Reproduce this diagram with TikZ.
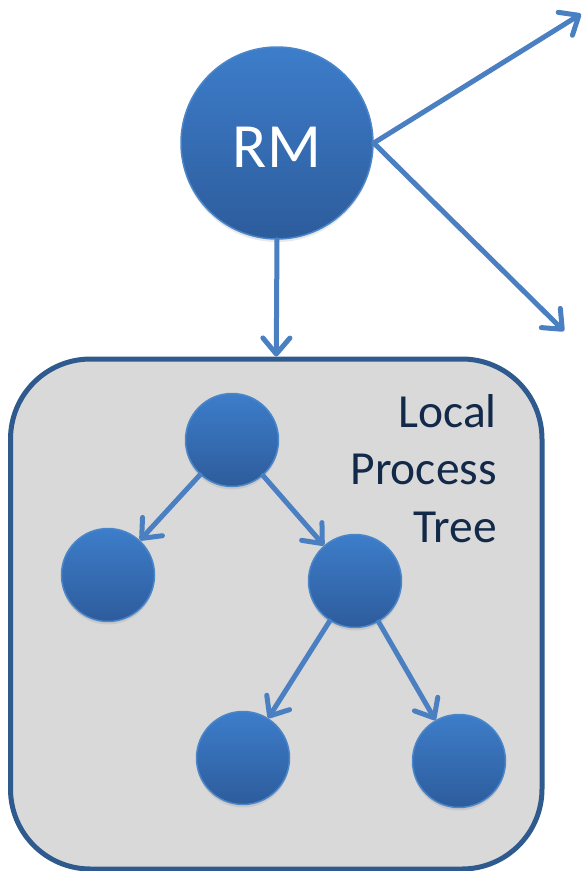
\documentclass[tikz,border=0pt]{standalone}
\usepackage{fontspec}
\setmainfont{Carlito}
\usetikzlibrary{arrows.meta,shadows}
\definecolor{arrowblue}{HTML}{4A7FC1}
\definecolor{topblue}{HTML}{3D7DCA}
\definecolor{botblue}{HTML}{2D5C9C}
\definecolor{rimblue}{HTML}{4B86C9}
\definecolor{boxedge}{HTML}{2F5A8E}
\definecolor{boxfill}{HTML}{D9D9D9}
\definecolor{textnavy}{HTML}{12294A}
\tikzset{
  ball/.style={circle, draw=rimblue, line width=1.5pt, top color=topblue, bottom color=botblue,
    inner sep=0pt, drop shadow={opacity=0.18, shadow xshift=0pt, shadow yshift=-3pt}},
  conn/.style={draw=arrowblue, line width=5pt, line cap=round,
    -{Straight Barb[length=16pt, width=27pt, line cap=round, line join=round]}},
}
\begin{document}
\begin{tikzpicture}[x=1pt, y=-1pt]
\useasboundingbox (0,0) rectangle (587,871);
% local box
\node[draw=boxedge, fill=boxfill, line width=5pt, rounded corners=80pt,
      minimum width=531.5pt, minimum height=510pt, inner sep=0pt] (box) at (276.25,614) {};
% RM
\node[ball, minimum size=192pt] (rm) at (277,143) {};
\node[text=white, font=\fontsize{63}{70}\selectfont] (rmlabel) at (277,147) {RM};
\coordinate (tr) at (581,14);
\coordinate (br) at (564,331);
\draw[conn] (rm.east) -- (tr);
\draw[conn] (rm.east) -- (br);
\draw[conn] (rm.south) -- (box.north);
% tree
\node[ball, minimum size=93pt] (t0) at (232,440) {};
\node[ball, minimum size=93pt] (t1) at (108,575) {};
\node[ball, minimum size=93pt] (t2) at (355,581) {};
\node[ball, minimum size=93pt] (t3) at (243,758) {};
\node[ball, minimum size=93pt] (t4) at (459,761) {};
\draw[conn] (t0) -- (t1);
\draw[conn] (t0) -- (t2);
\draw[conn] (t2) -- (t3);
\draw[conn] (t2) -- (t4);
% label
\node[text=textnavy, align=right, anchor=north east, inner sep=0pt,
      font=\fontsize{47.5}{57.5}\selectfont] (lbl) at (497,394) {Local\\Process\\Tree};
\end{tikzpicture}
\end{document}
